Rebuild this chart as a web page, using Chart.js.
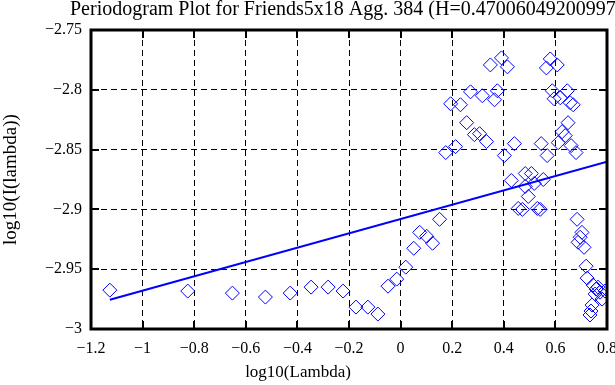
<!DOCTYPE html>
<html>
<head>
<meta charset="utf-8">
<script src="https://cdn.jsdelivr.net/npm/chart.js@4/dist/chart.umd.min.js"></script>
<style>
  html, body { margin: 0; padding: 0; background: #fff; }
  #wrap { width: 615px; height: 385px; position: relative; }
</style>
</head>
<body>
<div id="wrap"><canvas id="chart"></canvas></div>
<script>
const TITLE = "Periodogram Plot for Friends5x18 Agg. 384 (H=0.47006049200997";
const X_LABEL = "log10(Lambda)";
const Y_LABEL = "log10(I(lambda))";

// periodogram points
const logLambda = [
  -1.127, -0.825, -0.652, -0.524, -0.428, -0.347, -0.281, -0.223, -0.173, -0.127,
  -0.088, -0.049, -0.015, 0.020, 0.051, 0.074, 0.101, 0.124, 0.151, 0.175,
  0.213, 0.194, 0.232, 0.256, 0.286, 0.306, 0.333, 0.271, 0.317, 0.375,
  0.364, 0.348, 0.391, 0.414, 0.402, 0.441, 0.429, 0.456, 0.472, 0.483,
  0.507, 0.483, 0.518, 0.495, 0.530, 0.541, 0.553, 0.545, 0.568, 0.565,
  0.580, 0.607, 0.588, 0.619, 0.595, 0.646, 0.657, 0.669, 0.649, 0.626,
  0.638, 0.611, 0.661, 0.680, 0.684, 0.703, 0.696, 0.688, 0.711, 0.719,
  0.723, 0.746, 0.765, 0.792, 0.773, 0.754, 0.742, 0.738, 0.734, 0.781,
  0.758
];
const logI = [
  -2.9675, -2.9683, -2.9700, -2.9733, -2.9700, -2.9650, -2.9650, -2.9683, -2.9817, -2.9817,
  -2.9875, -2.9642, -2.9583, -2.9483, -2.9325, -2.9192, -2.9225, -2.9283, -2.9083, -2.8525,
  -2.8475, -2.8117, -2.8125, -2.8275, -2.8375, -2.8367, -2.8433, -2.8017, -2.8050, -2.8008,
  -2.8083, -2.7792, -2.7733, -2.7808, -2.8550, -2.8450, -2.8758, -2.8992, -2.9000, -2.8700,
  -2.8700, -2.8808, -2.8783, -2.8892, -2.8992, -2.9000, -2.8750, -2.8450, -2.8550, -2.7817,
  -2.7742, -2.7792, -2.8008, -2.8067, -2.8075, -2.8008, -2.8108, -2.8125, -2.8275, -2.8350,
  -2.8383, -2.8442, -2.8467, -2.8525, -2.9083, -2.9192, -2.9233, -2.9275, -2.9317, -2.9475,
  -2.9575, -2.9633, -2.9650, -2.9683, -2.9692, -2.9708, -2.9800, -2.9850, -2.9883, -2.9750,
  -2.9667
];

// fitted regression line, end points
const fitX = [-1.127, 0.800];
const fitY = [-2.9755, -2.8601];

const INK = "#000000";
const BLUE = "#0000ff";
const FONT = { family: "'Liberation Serif', 'Times New Roman', serif", size: 16 };

function fmt(v) {
  const r = Math.round(v * 1000) / 1000;
  const s = String(Math.abs(r));
  return r < 0 ? "\u2212" + s : s;
}

// gnuplot style frame: solid border, inward tick marks, title and axis labels
const framePlugin = {
  id: "frame",
  afterDraw(chart) {
    const { ctx, chartArea: a, scales } = chart;
    ctx.save();
    ctx.strokeStyle = INK;
    ctx.lineWidth = 2;
    ctx.setLineDash([]);
    const len = 8;
    ctx.beginPath();
    for (const t of scales.x.ticks) {
      const px = Math.round(scales.x.getPixelForValue(t.value));
      ctx.moveTo(px, a.bottom); ctx.lineTo(px, a.bottom - len);
      ctx.moveTo(px, a.top); ctx.lineTo(px, a.top + len);
    }
    for (const t of scales.y.ticks) {
      const py = Math.round(scales.y.getPixelForValue(t.value));
      ctx.moveTo(a.left, py); ctx.lineTo(a.left + len, py);
      ctx.moveTo(a.right, py); ctx.lineTo(a.right - len, py);
    }
    ctx.stroke();
    ctx.lineWidth = 3;
    ctx.strokeRect(a.left, a.top, a.right - a.left, a.bottom - a.top);

    ctx.fillStyle = INK;
    ctx.textBaseline = "middle";
    ctx.font = `20px ${FONT.family}`;
    ctx.textAlign = "left";
    ctx.fillText(TITLE, 70, 10);

    ctx.font = `17px ${FONT.family}`;
    ctx.textAlign = "center";
    ctx.fillText(X_LABEL, 298, 373);

    ctx.translate(11, (a.top + a.bottom) / 2);
    ctx.rotate(-Math.PI / 2);
    ctx.font = `19px ${FONT.family}`;
    ctx.fillText(Y_LABEL, 0, 0);
    ctx.restore();
  }
};

chartDefaults();

function chartDefaults() {
  Chart.defaults.font.family = FONT.family;
  Chart.defaults.font.size = FONT.size;
  Chart.defaults.color = INK;
}

const points = logLambda.map((x, i) => ({ x, y: logI[i] }));
const fitLine = fitX.map((x, i) => ({ x, y: fitY[i] }));

new Chart(document.getElementById("chart"), {
  type: "scatter",
  data: {
    datasets: [
      {
        label: "periodogram",
        data: points,
        pointStyle: "rectRot",
        pointRadius: 7,
        pointBorderWidth: 1,
        pointBorderColor: BLUE,
        pointBackgroundColor: "rgba(0,0,0,0)",
        showLine: false,
      },
      {
        label: "fit",
        data: fitLine,
        showLine: true,
        borderColor: BLUE,
        borderWidth: 2,
        pointRadius: 0,
      },
    ],
  },
  options: {
    responsive: true,
    maintainAspectRatio: false,
    animation: false,
    layout: { padding: { top: 30, right: 6, left: 0, bottom: 0 } },
    plugins: { legend: { display: false }, tooltip: { enabled: false } },
    scales: {
      x: {
        type: "linear",
        min: -1.2,
        max: 0.8,
        ticks: { stepSize: 0.2, padding: 10, maxRotation: 0, callback: fmt },
        grid: { color: INK, lineWidth: 1, drawTicks: false },
        border: { display: false, dash: [6, 4] },
        afterFit(s) { s.height = 56; s.paddingLeft = 0; s.paddingRight = 0; },
      },
      y: {
        min: -3,
        max: -2.75,
        ticks: { stepSize: 0.05, padding: 9, callback: fmt },
        grid: { color: INK, lineWidth: 1, drawTicks: false },
        border: { display: false, dash: [6, 4] },
        afterFit(s) { s.width = 91; s.paddingTop = 0; s.paddingBottom = 0; },
      },
    },
  },
  plugins: [framePlugin],
});
</script>
</body>
</html>
